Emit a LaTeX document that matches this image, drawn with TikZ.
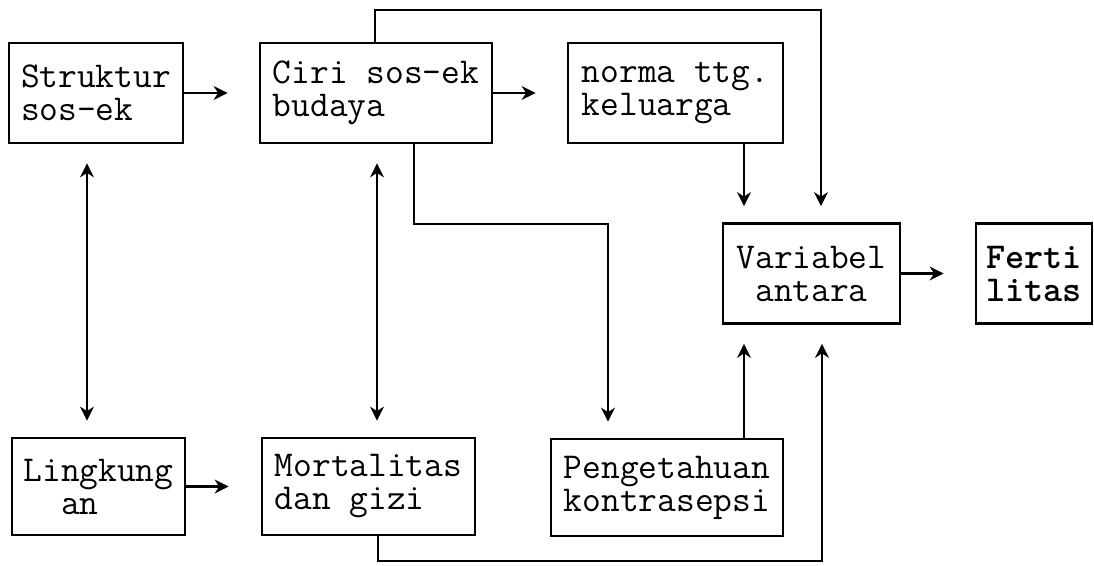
\documentclass[tikz,border=0pt]{standalone}
\usepackage{fontspec}
\usetikzlibrary{arrows.meta}

\begin{document}
\begin{tikzpicture}[x=0.5pt, y=-0.5pt,
    box/.style={rectangle, draw, line width=1.4pt, align=left, inner sep=0pt,
        minimum height=50pt, font=\ttfamily\fontsize{18.2}{16.5}\selectfont},
    link/.style={line width=1.1pt, -{Stealth[length=7pt, width=7pt]}},
    twoway/.style={line width=1.1pt,
        {Stealth[length=7pt, width=7pt]}-{Stealth[length=7pt, width=7pt]}}]
    \useasboundingbox (0,0) rectangle (1094,566);
    % top row
    \node[box, minimum width=87pt] (struktur) at (96,93) {Struktur\\sos-ek};
    \node[box, minimum width=116pt] (ciri) at (376,93) {Ciri sos-ek\\budaya};
    \node[box, minimum width=107.5pt] (norma) at (675.5,93) {norma ttg.\\keluarga};
    \node[box, minimum width=88.5pt, align=center] (variabel) at (811.5,273.5) {Variabel\\antara};
    \node[box, minimum width=58pt, font=\ttfamily\bfseries\fontsize{18.2}{16.5}\selectfont] (ferti) at (1034,273.5) {Ferti\\litas};
    % bottom row
    \node[box, minimum width=86.5pt, minimum height=48.5pt] (lingkungan) at (98.5,486.5) {Lingkung\\~~an};
    \node[box, minimum width=106.5pt, minimum height=48.5pt] (mortalitas) at (368.5,486.5) {Mortalitas\\dan gizi};
    \node[box, minimum width=116pt, minimum height=48.5pt] (pengetahuan) at (667,487.5) {Pengetahuan\\kontrasepsi};

    \draw[link, shorten >=15.5pt] (struktur) -- (ciri);
    \draw[link, shorten >=15.5pt] (ciri) -- (norma);
    \draw[link, shorten >=16pt] (lingkungan) -- (mortalitas);
    \draw[link, shorten >=15.5pt] (variabel) -- (ferti);
    \draw[twoway, shorten <=9.5pt, shorten >=8pt] (struktur.south -| 87,0) -- (lingkungan.north -| 87,0);
    \draw[twoway, shorten <=9.5pt, shorten >=8pt] (ciri.south -| 377,0) -- (mortalitas.north -| 377,0);
    \draw[link, shorten >=8pt] (ciri.south -| 414,0) |- (608,224) -- (pengetahuan.north -| 608,0);
    \draw[link, shorten >=8pt] (ciri.north -| 375,0) |- (821,10) -- (variabel.north -| 821,0);
    \draw[link, shorten >=8pt] (norma.south -| 744,0) -- (variabel.north -| 744,0);
    \draw[link, shorten >=9.5pt] (pengetahuan.north -| 744,0) -- (variabel.south -| 744,0);
    \draw[link, shorten >=9.5pt] (mortalitas.south -| 378,0) |- (822,561) -- (variabel.south -| 822,0);
\end{tikzpicture}
\end{document}
